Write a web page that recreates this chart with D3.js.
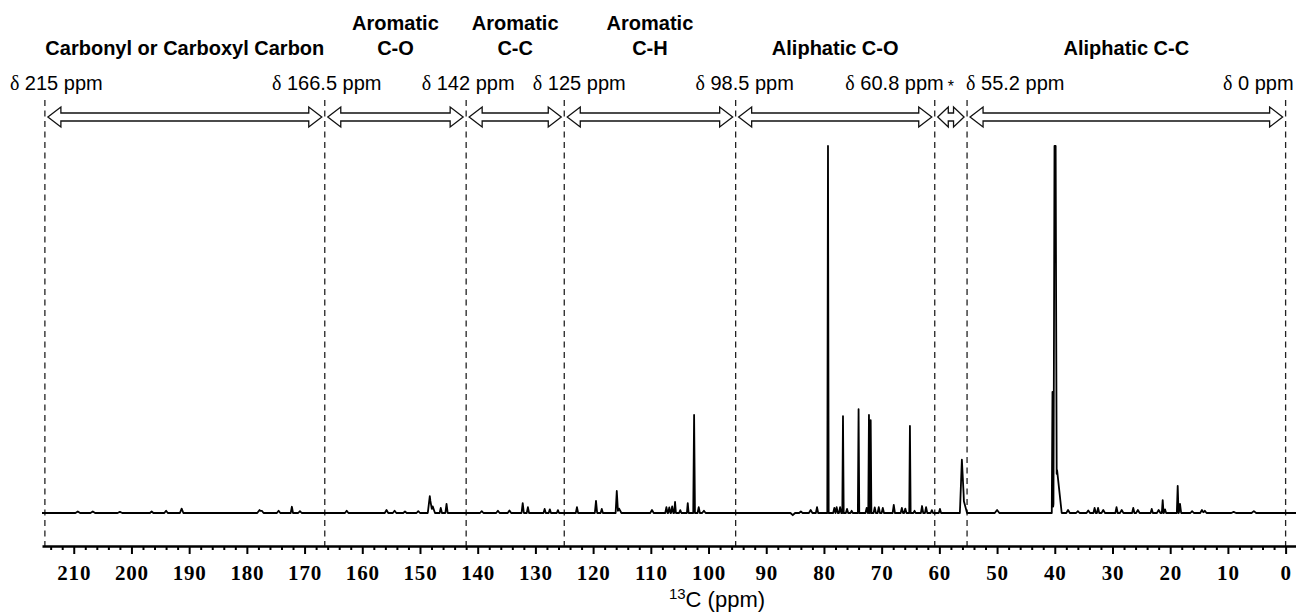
<!DOCTYPE html>
<html>
<head>
<meta charset="utf-8">
<script src="https://cdn.jsdelivr.net/npm/d3@7"></script>
<style>
  body { margin: 0; background: #fff; }
  svg { display: block; }
</style>
</head>
<body>
<svg id="chart" width="1296" height="615"></svg>
<script>
// region boundaries as drawn (ppm) and the text printed above them
const bounds = [215, 166.5, 142, 125, 95.3, 60.8, 55.2, 0];
const boundLabels = ['215', '166.5', '142', '125', '98.5', '60.8', '55.2', '0'];

// region names, one per gap between boundaries (null = no name)
const regions = [
  ['Carbonyl or Carboxyl Carbon'],
  ['Aromatic', 'C-O'],
  ['Aromatic', 'C-C'],
  ['Aromatic', 'C-H'],
  ['Aliphatic C-O'],
  null,
  ['Aliphatic C-C']
];

const xTicks = [210, 200, 190, 180, 170, 160, 150, 140, 130, 120, 110, 100, 90, 80, 70, 60, 50, 40, 30, 20, 10, 0];

// peaks: [ppm, intensity (tallest = 100), half width ppm]
const peaks = [
  [209.3, 0.4, 0.4], [206.7, 0.4, 0.4], [202.0, 0.3, 0.4], [196.5, 0.4, 0.3], [194.0, 0.6, 0.3],
  [191.3, 1.2, 0.3], [177.8, 0.8, 0.4], [177.4, 0.6, 0.3], [174.5, 0.6, 0.3], [172.2, 1.7, 0.2],
  [170.8, 0.5, 0.3], [162.7, 0.6, 0.3], [155.8, 0.8, 0.3], [154.4, 0.6, 0.3], [152.6, 0.4, 0.3],
  [150.3, 0.5, 0.3], [148.3, 4.6, 0.35], [147.8, 1.8, 0.4], [146.4, 1.4, 0.2], [145.4, 2.5, 0.2],
  [139.3, 0.5, 0.3], [136.5, 0.6, 0.3], [134.5, 0.7, 0.3], [132.2, 2.7, 0.2], [131.3, 1.6, 0.2],
  [128.4, 1.1, 0.2], [127.5, 1.0, 0.2], [126.1, 0.8, 0.2], [122.8, 1.6, 0.2], [119.5, 3.3, 0.2],
  [118.5, 1.1, 0.2], [115.9, 6.0, 0.2], [115.5, 1.2, 0.4], [109.8, 0.8, 0.3], [107.3, 1.6, 0.2],
  [106.8, 1.5, 0.2], [106.3, 1.8, 0.2], [105.8, 3.0, 0.15], [104.9, 0.8, 0.2], [103.6, 2.7, 0.15],
  [102.5, 26.7, 0.15], [101.7, 1.6, 0.2], [100.8, 0.6, 0.3], [85.4, -0.6, 0.4], [84.0, 0.4, 0.3],
  [82.3, 0.8, 0.3], [81.2, 1.6, 0.2], [79.3, 100, 0.12], [78.2, 1.4, 0.2], [77.8, 1.6, 0.2],
  [77.2, 1.6, 0.2], [76.7, 26.4, 0.12], [76.0, 1.1, 0.2], [75.2, 0.6, 0.2], [74.0, 28.3, 0.12],
  [72.6, 1.4, 0.2], [72.2, 26.7, 0.12], [71.9, 25.3, 0.12], [71.2, 1.5, 0.2], [70.5, 1.6, 0.2],
  [69.8, 1.4, 0.2], [67.9, 2.2, 0.2], [66.5, 1.4, 0.2], [65.9, 1.2, 0.2], [65.1, 23.7, 0.12],
  [64.3, 0.6, 0.2], [63.0, 1.9, 0.2], [62.3, 1.6, 0.2], [61.3, 0.8, 0.2], [59.9, 1.1, 0.2],
  [56.1, 12.8, 0.35], [55.8, 3.5, 0.6], [50.0, 0.8, 0.4], [40.4, 33, 0.12], [40.05, 89, 0.18],
  [39.95, 89, 0.18], [39.85, 89, 0.18], [39.6, 11.7, 0.8], [37.7, 0.8, 0.3], [36.0, 0.5, 0.3],
  [34.2, 0.7, 0.3], [33.1, 1.4, 0.2], [32.5, 1.4, 0.2], [31.6, 0.8, 0.3], [29.3, 1.6, 0.2],
  [28.4, 0.8, 0.3], [26.4, 1.4, 0.2], [25.6, 0.8, 0.3], [23.2, 1.1, 0.2], [22.0, 0.8, 0.3],
  [21.3, 3.5, 0.15], [20.9, 1.0, 0.2], [18.7, 7.4, 0.15], [18.3, 2.5, 0.2], [16.2, 0.5, 0.3],
  [14.5, 0.8, 0.3], [14.0, 0.6, 0.3], [9.0, 0.3, 0.4], [5.5, 0.5, 0.4]
];

const svg = d3.select('svg#chart');
const sans = 'Liberation Sans, Arial, sans-serif';
const serif = 'Liberation Serif, Times New Roman, serif';

const x = d3.scaleLinear().domain([215.5, -1.8]).range([42, 1296]);
const y = d3.scaleLinear().domain([0, 100]).range([513, 146]);
const axisY = 546;

// spectrum trace: sum of triangle line shapes evaluated at their breakpoints
const edges = [x.domain()[0], x.domain()[1]];
peaks.forEach(p => edges.push(p[0] - p[2], p[0], p[0] + p[2]));
const pts = Array.from(new Set(edges)).sort((a, b) => b - a).map(v => {
  let s = 0;
  peaks.forEach(p => { s += p[1] * Math.max(0, 1 - Math.abs(v - p[0]) / p[2]); });
  return [v, Math.min(s, 100)];
});

// dashed boundaries
svg.append('g').selectAll('line').data(bounds)
  .enter().append('line')
    .attr('x1', d => x(d)).attr('x2', d => x(d))
    .attr('y1', 100).attr('y2', axisY)
    .attr('stroke', '#222').attr('stroke-width', 1.3)
    .attr('stroke-dasharray', '6,4.5');

svg.append('path')
  .datum(pts)
  .attr('fill', 'none')
  .attr('stroke', '#000')
  .attr('stroke-width', 1.8)
  .attr('stroke-linejoin', 'round')
  .attr('d', d3.line().x(d => x(d[0])).y(d => y(d[1])));

// axis with minor ticks
const minor = d3.range(214, -1, -2).filter(v => v % 10 !== 0);
svg.append('g')
  .attr('transform', `translate(0,${axisY})`)
  .call(d3.axisBottom(x).tickValues(minor).tickSize(4).tickFormat(''))
  .call(g => g.select('.domain').remove())
  .call(g => g.selectAll('line').attr('stroke-width', 2));

const ax = svg.append('g')
  .attr('transform', `translate(0,${axisY})`)
  .call(d3.axisBottom(x).tickValues(xTicks).tickSize(8).tickSizeOuter(0).tickPadding(11));
ax.select('.domain').attr('stroke-width', 2.6);
ax.selectAll('line').attr('stroke-width', 2);
ax.selectAll('text')
  .attr('font-family', serif).attr('font-weight', 'bold')
  .attr('font-size', 21).attr('letter-spacing', 0.8).attr('fill', '#000');

const xt = svg.append('text')
  .attr('x', 717).attr('y', 607)
  .attr('text-anchor', 'middle')
  .attr('font-family', sans).attr('font-size', 22);
xt.append('tspan').attr('font-size', 15).attr('dy', -8).text('13');
xt.append('tspan').attr('dy', 8).text('C (ppm)');

// double arrows between boundaries
const arrowY = 117;
const arrowPath = (a, b) => {
  const x1 = x(a) + 3, x2 = x(b) - 3;
  const L = Math.min(13, (x2 - x1) / 2.5), H = 10, S = 4;
  return `M${x1},${arrowY}L${x1 + L},${arrowY - H}L${x1 + L},${arrowY - S}L${x2 - L},${arrowY - S}` +
    `L${x2 - L},${arrowY - H}L${x2},${arrowY}L${x2 - L},${arrowY + H}L${x2 - L},${arrowY + S}` +
    `L${x1 + L},${arrowY + S}L${x1 + L},${arrowY + H}Z`;
};
svg.append('g').selectAll('path').data(d3.pairs(bounds))
  .enter().append('path')
    .attr('d', d => arrowPath(d[0], d[1]))
    .attr('fill', '#fff').attr('stroke', '#111').attr('stroke-width', 1.3);

// boundary labels
const labelPlace = [
  { anchor: 'start', dx: -35 }, { anchor: 'middle', dx: 2 }, { anchor: 'middle', dx: 2 },
  { anchor: 'middle', dx: 15 }, { anchor: 'middle', dx: 9 }, { anchor: 'end', dx: 9 },
  { anchor: 'start', dx: -1 }, { anchor: 'end', dx: 8 }
];
const bl = svg.append('g').selectAll('text').data(bounds)
  .enter().append('text')
    .attr('x', (d, i) => x(d) + labelPlace[i].dx)
    .attr('y', 90)
    .attr('text-anchor', (d, i) => labelPlace[i].anchor)
    .attr('font-family', sans).attr('font-size', 20);
bl.append('tspan').attr('font-family', serif).text('δ');
bl.append('tspan').text((d, i) => ' ' + boundLabels[i] + ' ppm');

svg.append('text')
  .attr('x', x((bounds[5] + bounds[6]) / 2)).attr('y', 92)
  .attr('text-anchor', 'middle')
  .attr('font-family', sans).attr('font-size', 16)
  .text('*');

// region names
d3.pairs(bounds).forEach((b, i) => {
  const r = regions[i];
  if (!r) return;
  const cx = x((b[0] + b[1]) / 2);
  r.forEach((t, j) => {
    svg.append('text')
      .attr('x', cx).attr('y', 55 - (r.length - 1 - j) * 25)
      .attr('text-anchor', 'middle')
      .attr('font-family', sans).attr('font-weight', 'bold').attr('font-size', 20)
      .text(t);
  });
});
</script>
</body>
</html>
